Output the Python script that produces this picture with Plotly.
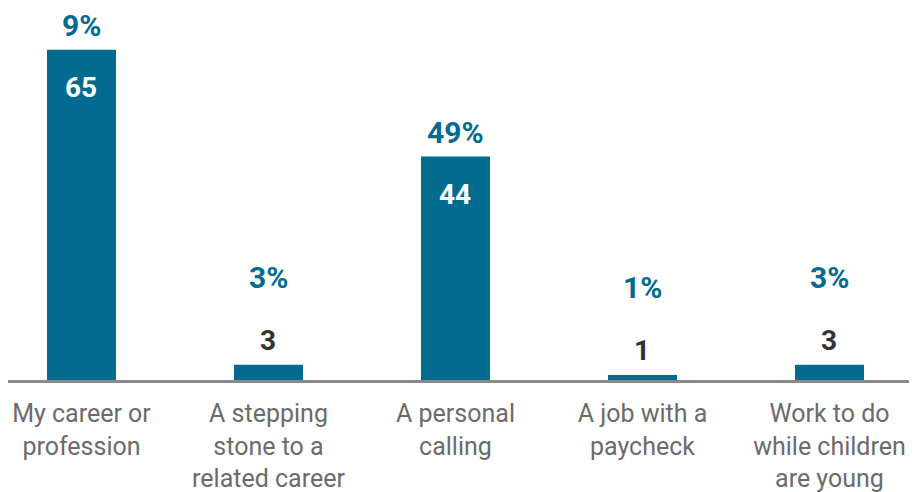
import plotly.graph_objects as go

categories = ["My career or<br>profession", "A stepping<br>stone to a<br>related career",
              "A personal<br>calling", "A job with a<br>paycheck", "Work to do<br>while children<br>are young"]
values = [65, 3, 44, 1, 3]
pct_labels = ["9%", "3%", "49%", "1%", "3%"]

BAR = "#016a8f"
x = list(range(len(categories)))

fig = go.Figure(go.Bar(x=x, y=values, marker=dict(color=BAR, line=dict(width=0)),
                       hoverinfo="skip"))

ann = []
for i, (v, p) in enumerate(zip(values, pct_labels)):
    inside = v > 10
    ann.append(dict(x=i, y=v, xref="x", yref="y", text=str(v), showarrow=False,
                    yanchor="middle", yshift=-38 if inside else 24,
                    font=dict(family="Roboto", size=28, weight="bold",
                              color="white" if inside else "#333333")))
    ann.append(dict(x=i, y=v, xref="x", yref="y", text=p, showarrow=False,
                    yanchor="middle", yshift=24 if inside else 87,
                    font=dict(family="Roboto", size=30, weight="bold", color=BAR)))

fig.update_layout(
    width=909, height=484,
    margin=dict(l=0, r=0, t=0, b=112, autoexpand=False),
    paper_bgcolor="white", plot_bgcolor="white",
    bargap=0.631, showlegend=False, annotations=ann,
    xaxis=dict(tickmode="array", tickvals=x, ticktext=categories, automargin=False,
               range=[-0.393, 4.468], showline=True, linecolor="#8a8a8a", linewidth=3,
               showgrid=False, zeroline=False, ticks="", ticklabelstandoff=9,
               tickfont=dict(family="Roboto", size=25, color="#6b6b6b")),
    yaxis=dict(range=[0, 73.2], visible=False, showgrid=False, zeroline=False,
               automargin=False),
)

fig.write_html("out.html")
